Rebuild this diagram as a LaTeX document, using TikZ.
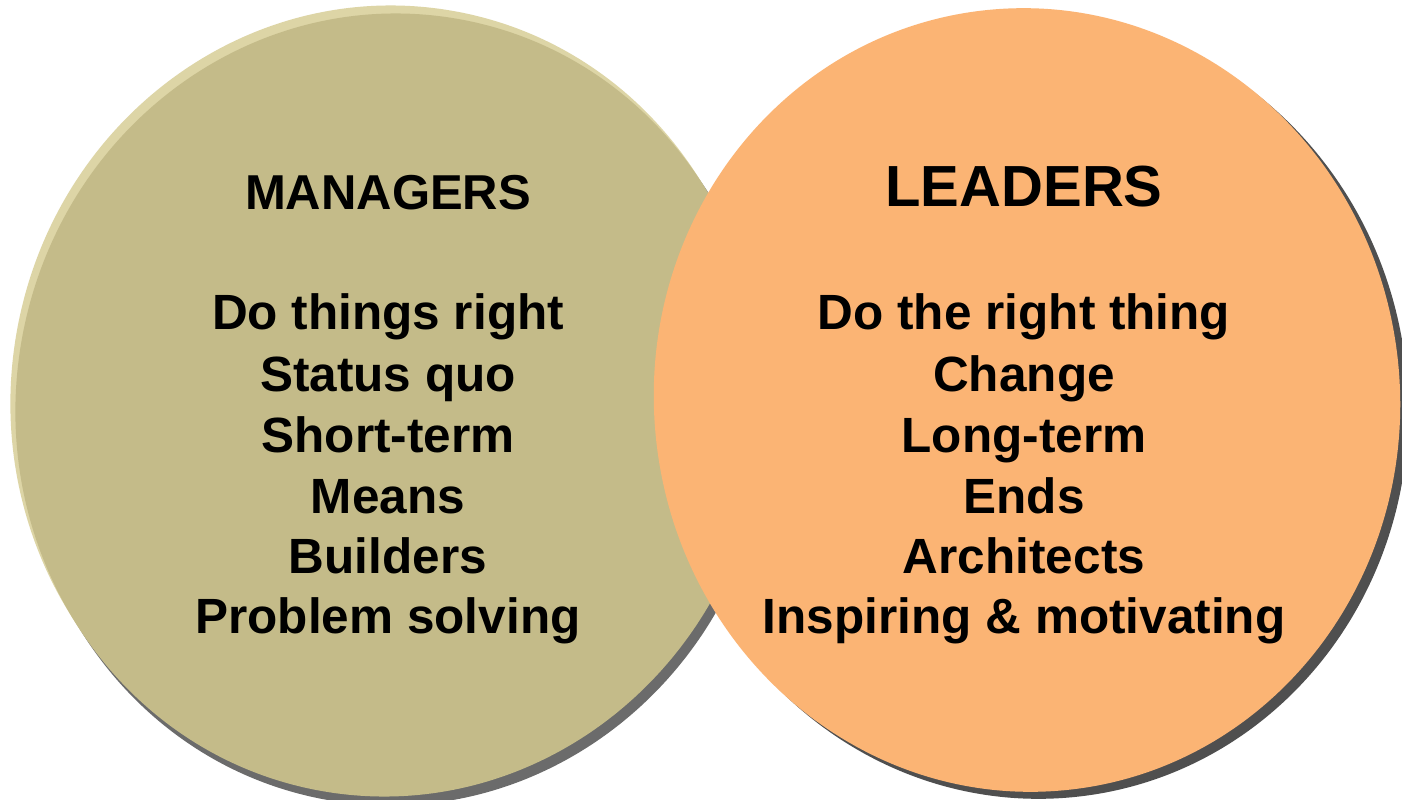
\documentclass[tikz,border=0pt]{standalone}
\usepackage{fontspec}
\setmainfont{Liberation Sans}
\definecolor{khaki}{HTML}{C4BB89}
\definecolor{khakirim}{HTML}{DDD5A6}
\definecolor{peach}{HTML}{FBB474}
\definecolor{shadowA}{HTML}{6B6B6B}
\definecolor{shadowB}{HTML}{4F4F4F}
\begin{document}
\begin{tikzpicture}[x=0.5pt,y=0.5pt,
  body/.style={font=\fontsize{24.75pt}{30pt}\selectfont\bfseries, anchor=base, inner sep=0pt, text=black},
  headL/.style={font=\fontsize{24.5pt}{30pt}\selectfont\bfseries, anchor=base, inner sep=0pt, text=black},
  headR/.style={font=\fontsize{29pt}{34pt}\selectfont\bfseries, anchor=base, inner sep=0pt, text=black}]
\useasboundingbox (0,0) rectangle (1402,799);
\clip (0,0) rectangle (1402,799);
\fill[white] (0,0) rectangle (1402,799);
% left disk
\fill[shadowA, rotate around={-10:(396,385)}] (396,385) ellipse [x radius=374, y radius=392];
\fill[khakirim, rotate around={-10:(385,402)}] (385,402) ellipse [x radius=374, y radius=392];
\fill[khaki, rotate around={-10:(390,394)}] (390,394) ellipse [x radius=374, y radius=392];
% right disk
\fill[shadowB, rotate around={6:(1035,392)}] (1035,392) ellipse [x radius=373, y radius=392];
\fill[peach, rotate around={6:(1027,399)}] (1027,399) ellipse [x radius=373, y radius=392];
% texts
\node[headL] (m0) at (388,589) {MANAGERS};
\node[body] (m1) at (388,469) {Do things right};
\node[body] (m2) at (388,408) {Status quo};
\node[body] (m3) at (388,347) {Short-term};
\node[body] (m4) at (388,286) {Means};
\node[body] (m5) at (388,226) {Builders};
\node[body] (m6) at (388,166) {Problem solving};
\node[headR] (l0) at (1024,592) {LEADERS};
\node[body] (l1) at (1024,469) {Do the right thing};
\node[body] (l2) at (1024,408) {Change};
\node[body] (l3) at (1024,347) {Long-term};
\node[body] (l4) at (1024,286) {Ends};
\node[body] (l5) at (1024,226) {Architects};
\node[body] (l6) at (1024,166) {Inspiring \& motivating};
\end{tikzpicture}
\end{document}
